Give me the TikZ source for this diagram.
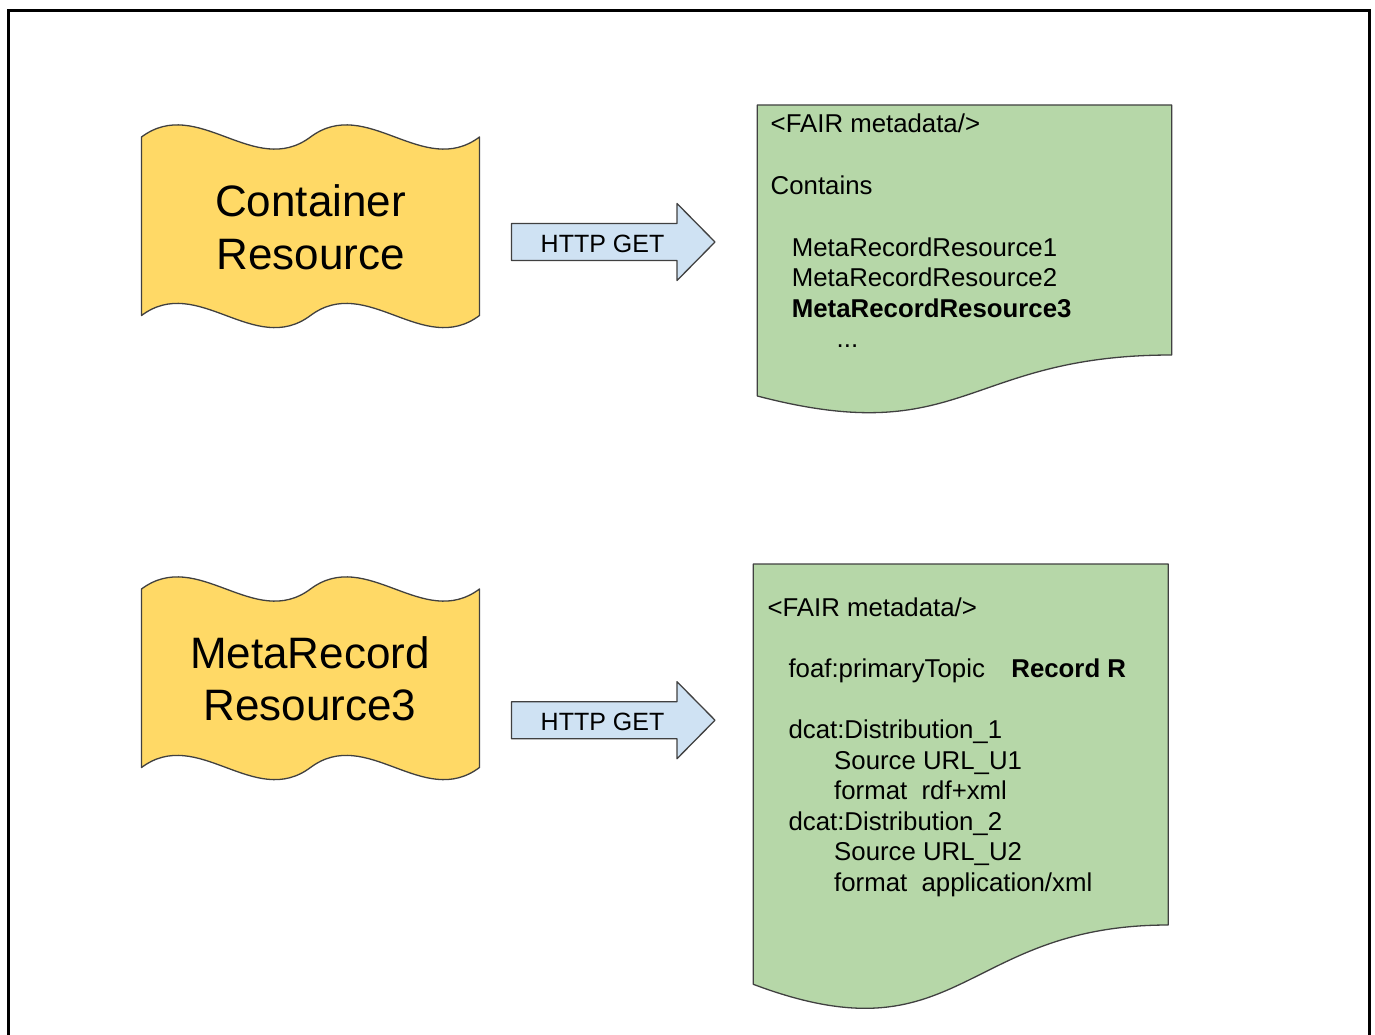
\documentclass[tikz,border=0pt]{standalone}
\usepackage{fontspec}
\setmainfont{Liberation Sans}
\definecolor{tapeY}{HTML}{FFD966}
\definecolor{docG}{HTML}{B6D7A8}
\definecolor{arrB}{HTML}{CFE2F3}
\definecolor{edgeC}{HTML}{404040}
\begin{document}
\begin{tikzpicture}[x=1pt,y=-1pt,
  shapeline/.style={draw=edgeC, line width=1.3pt, line join=round},
  tapetext/.style={align=center, font=\fontsize{44}{52.5}\selectfont, inner sep=0pt},
  arrowtext/.style={anchor=base, font=\fontsize{25}{30}\selectfont, inner sep=0pt},
  doctext/.style={anchor=base west, font=\fontsize{25.8}{30.8}\selectfont, inner sep=0pt},
  docbold/.style={anchor=base west, font=\fontsize{25.8}{30.8}\selectfont\bfseries, inner sep=0pt}]
\useasboundingbox (0,0) rectangle (1375,1035);
% frame
\draw[line width=2.5pt, line join=miter] (8.3,1040) -- (8.3,10.5) -- (1369.5,10.5) -- (1369.5,1040);

% ---------- top row ----------
\filldraw[shapeline, fill=tapeY]
  (141.5,137) .. controls (197.8,95) and (254.2,179) .. (310.5,137)
  .. controls (366.8,95) and (423.2,179) .. (479.5,137)
  -- (479.5,315.5)
  .. controls (423.2,357.5) and (366.8,273.5) .. (310.5,315.5)
  .. controls (254.2,357.5) and (197.8,273.5) .. (141.5,315.5) -- cycle;
\node[tapetext] (cont) at (310.5,227.5) {Container\\Resource};

\filldraw[shapeline, fill=arrB]
  (511.5,223.5) -- (677,223.5) -- (677,203.5) -- (715,242) -- (677,280.5) -- (677,260.5) -- (511.5,260.5) -- cycle;
\node[arrowtext] (get1) at (602.5,252) {HTTP GET};

\filldraw[shapeline, fill=docG]
  (757.3,105) -- (1171.7,105) -- (1171.7,355)
  .. controls (964.5,355) and (964.5,450.2) .. (757.3,396) -- cycle;
\node[doctext] (d1a) at (770.5,132.5) {<FAIR metadata/>};
\node[doctext] (d1b) at (770.5,194.5) {Contains};
\node[doctext] (d1c) at (791.7,256) {MetaRecordResource1};
\node[doctext] (d1d) at (791.7,286.5) {MetaRecordResource2};
\node[docbold] (d1e) at (791.7,317) {MetaRecordResource3};
\node[doctext] (d1f) at (836.5,347.5) {...};

% ---------- bottom row ----------
\filldraw[shapeline, fill=tapeY]
  (141.5,589) .. controls (197.8,547) and (254.2,631) .. (310.5,589)
  .. controls (366.8,547) and (423.2,631) .. (479.5,589)
  -- (479.5,767.5)
  .. controls (423.2,809.5) and (366.8,725.5) .. (310.5,767.5)
  .. controls (254.2,809.5) and (197.8,725.5) .. (141.5,767.5) -- cycle;
\node[tapetext] (meta) at (310,679) {MetaRecord\\Resource3};

\filldraw[shapeline, fill=arrB]
  (511.5,701.7) -- (677,701.7) -- (677,681.7) -- (715,720.2) -- (677,758.7) -- (677,738.7) -- (511.5,738.7) -- cycle;
\node[arrowtext] (get2) at (602.5,730.2) {HTTP GET};

\filldraw[shapeline, fill=docG]
  (753.3,564) -- (1168.3,564) -- (1168.3,925)
  .. controls (960.8,925) and (960.8,1062.4) .. (753.3,984.3) -- cycle;
\node[doctext] (d2a) at (767.3,616) {<FAIR metadata/>};
\node[doctext] (d2b) at (788.3,677) {foaf:primaryTopic};
\node[docbold] (d2c) at (1011.2,677) {Record R};
\node[doctext] (d2d) at (788.3,738.3) {dcat:Distribution\_1};
\node[doctext] (d2e) at (834,769) {Source URL\_U1};
\node[doctext] (d2f) at (834,799.6) {format\ \ rdf+xml};
\node[doctext] (d2g) at (788.3,830.2) {dcat:Distribution\_2};
\node[doctext] (d2h) at (834,860.8) {Source URL\_U2};
\node[doctext] (d2i) at (834,891.4) {format\ \ application/xml};
\end{tikzpicture}
\end{document}
